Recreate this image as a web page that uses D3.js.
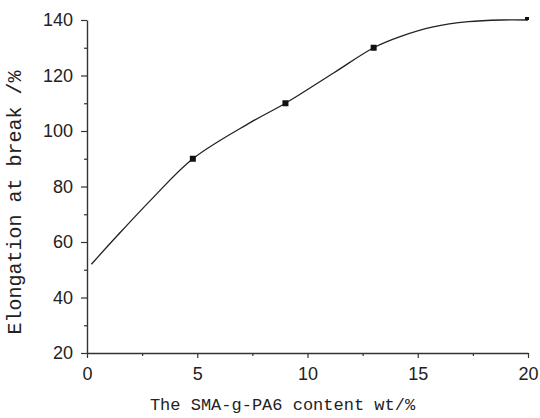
<!DOCTYPE html>
<html>
<head>
<meta charset="utf-8">
<script src="https://cdn.jsdelivr.net/npm/d3@7"></script>
<style>
  body { margin: 0; background: #fff; }
  .tick text { font-family: "Liberation Sans", Arial, sans-serif; font-size: 18px; fill: #222; }
  .axis-label { font-family: "Liberation Mono", "DejaVu Sans Mono", monospace; fill: #222; }
</style>
</head>
<body>
<svg width="540" height="418"></svg>
<script>
// measured points (markers)
const contentX = [4.8, 9, 13, 20];
const elongation = [90, 110, 130, 140];

// fitted curve
const curveX = [0.2, 1.4, 3, 4.8, 7.4, 9, 11.2, 13, 14.2, 15.7, 17.3, 18.8, 20];
const curveY = [52, 62.5, 76, 90, 103, 110, 121, 130, 134, 137.5, 139.4, 140, 140];

const xTicks = [0, 5, 10, 15, 20];
const yTicks = [20, 40, 60, 80, 100, 120, 140];

const svg = d3.select('svg');
const margin = {top: 20, right: 12, bottom: 65, left: 87};
const width = +svg.attr('width');
const height = +svg.attr('height');
const innerWidth = width - margin.left - margin.right;
const innerHeight = height - margin.top - margin.bottom;

const xScale = d3.scaleLinear().domain([0, 20]).range([0, innerWidth]);
const yScale = d3.scaleLinear().domain([20, 140]).range([innerHeight, 0]);

const g = svg.append('g')
    .attr('transform', `translate(${margin.left}, ${margin.top})`);

// minor ticks (no labels)
const xMinor = g.append('g')
    .attr('transform', `translate(0, ${innerHeight})`)
    .call(d3.axisBottom(xScale).tickValues(d3.range(2.5, 20, 5)).tickSize(3));
const yMinor = g.append('g')
    .call(d3.axisLeft(yScale).tickValues(d3.range(30, 140, 20)).tickSize(3));
[xMinor, yMinor].forEach(a => a.selectAll('.domain, .tick text').remove());

// major axes
const xAxisG = g.append('g')
    .attr('transform', `translate(0, ${innerHeight})`)
    .call(d3.axisBottom(xScale).tickValues(xTicks).tickSize(5).tickPadding(9).tickSizeOuter(0));
const yAxisG = g.append('g')
    .call(d3.axisLeft(yScale).tickValues(yTicks).tickSize(6).tickPadding(8).tickSizeOuter(0));

g.selectAll('.domain').attr('stroke', '#333').attr('stroke-width', 1.4);
g.selectAll('.tick line').attr('stroke', '#333').attr('stroke-width', 1.2);

xAxisG.append('text')
    .attr('class', 'axis-label')
    .attr('x', xScale(10) - 25)
    .attr('y', 57)
    .attr('font-size', 17)
    .attr('text-anchor', 'middle')
    .text('The SMA-g-PA6 content wt/%');

yAxisG.append('text')
    .attr('class', 'axis-label')
    .attr('transform', `translate(-66, ${innerHeight / 2 + 16}) rotate(-90)`)
    .attr('font-size', 20)
    .attr('text-anchor', 'middle')
    .text('Elongation at break /%');

// curve
const curveData = curveX.map((x, i) => ({x, y: curveY[i]}));
const line = d3.line()
    .x(d => xScale(d.x))
    .y(d => yScale(d.y))
    .curve(d3.curveCatmullRom.alpha(0.5));

g.append('path')
    .datum(curveData)
    .attr('fill', 'none')
    .attr('stroke', '#222')
    .attr('stroke-width', 1.3)
    .attr('d', line);

// markers
const pts = contentX.map((x, i) => ({x, y: elongation[i]}));
g.selectAll('rect.marker').data(pts)
    .enter().append('rect')
    .attr('class', 'marker')
    .attr('x', d => xScale(d.x) - 3)
    .attr('y', d => yScale(d.y) - 3)
    .attr('width', (d, i) => i === pts.length - 1 ? 4 : 6)
    .attr('height', (d, i) => i === pts.length - 1 ? 3 : 6)
    .attr('fill', '#111');
</script>
</body>
</html>
